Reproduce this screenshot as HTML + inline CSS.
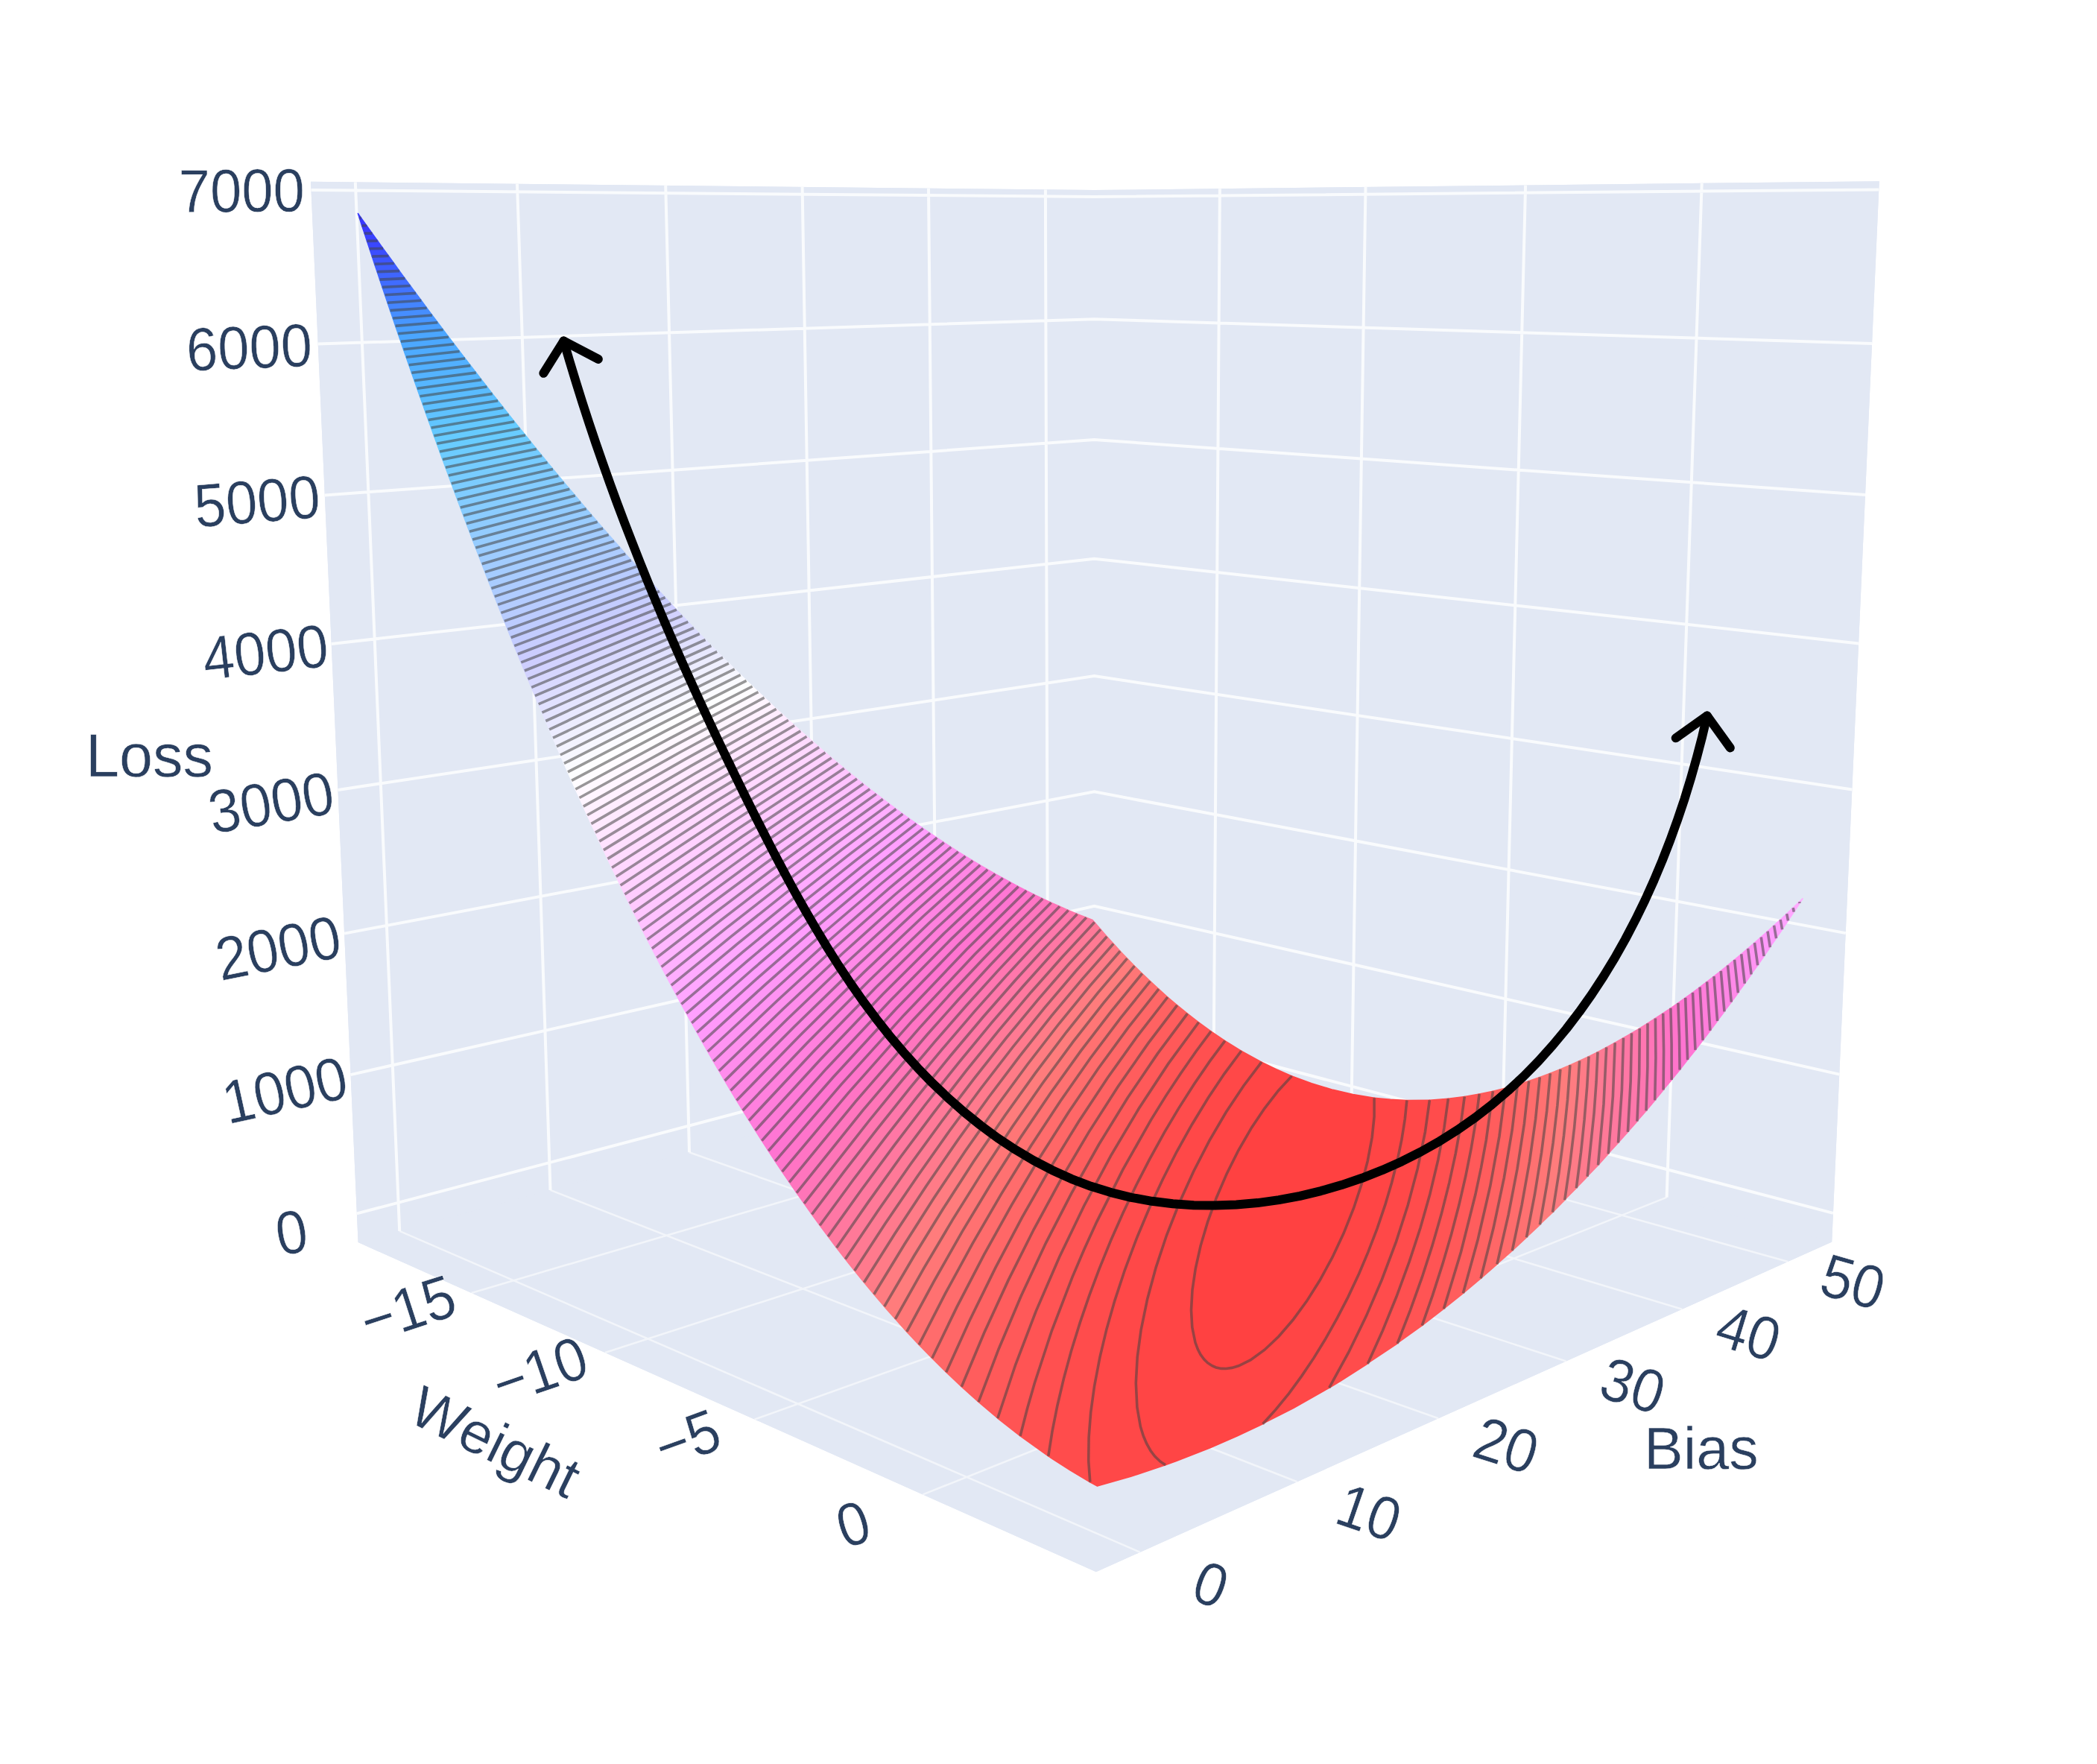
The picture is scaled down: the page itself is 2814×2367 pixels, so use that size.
<!DOCTYPE html><html><head><meta charset="utf-8"><style>html,body{margin:0;padding:0;background:#fff}svg{display:block}</style></head><body><svg width="2814" height="2367" viewBox="0 0 2814 2367">
<rect width="2814" height="2367" fill="#fff"/>
<path d="M417 243.7 L1468.4 255.1 L2521.8 243.2 L2458.2 1666.6 L1470.9 2109.2 L480.6 1667.1Z" fill="#e2e8f4"/>
<path d="M480.6 1667.1 L1468.5 1398.3 L1468.4 255.1 L417 243.7Z" fill="#e2e8f4"/>
<path d="M1468.5 1398.3 L2458.2 1666.6 L2521.8 243.2 L1468.4 255.1Z" fill="#e2e8f4"/>
<path d="M480.6 1667.1 L1470.9 2109.2 L2458.2 1666.6 L1468.5 1398.3Z" fill="#e2e8f4"/>
<path d="M478.9 1628.4 L1468.5 1366.8 L2460 1627.9 M470.5 1442.1 L1468.5 1215.7 L2468.3 1441.6 M462.1 1252.6 L1468.5 1062.4 L2476.8 1252.1 M453.5 1059.9 L1468.5 907.1 L2485.4 1059.4 M444.7 863.9 L1468.5 749.7 L2494.1 863.4 M435.8 664.4 L1468.5 590 L2503 663.9 M426.7 461.5 L1468.5 428.2 L2512.1 461 M417.5 255 L1468.4 264 L2521.3 254.4 M476.8 244.4 L536.2 1651.9 M694 246.7 L738.5 1596.9 M893.2 248.9 L925 1546.2 M1076.6 250.9 L1097.4 1499.3 M1246 252.7 L1257.4 1455.7 M1402.9 254.4 L1406.2 1415.3 M1636.9 253.2 L1628.5 1441.7 M1832.5 251 L1813.4 1491.8 M2047.1 248.6 L2015.3 1546.5 M2283.7 245.9 L2236.6 1606.6" stroke="#fff" stroke-width="4" stroke-opacity="0.8" fill="none"/>
<path d="M536.2 1651.9 L1529.7 2082.8 M738.5 1596.9 L1740.5 1988.3 M925 1546.2 L1930.1 1903.3 M1097.4 1499.3 L2101.5 1826.5 M1257.4 1455.7 L2257.3 1756.7 M1406.2 1415.3 L2399.4 1693 M1628.5 1441.7 L632.6 1734.9 M1813.4 1491.8 L811.9 1815 M2015.3 1546.5 L1012.5 1904.6 M2236.6 1606.6 L1238.4 2005.4" stroke="#fff" stroke-width="2.6" stroke-opacity="0.55" fill="none"/>
<g stroke-width="1.6" stroke-linejoin="round">
<path d="M480.4 286.5 L482.4 292.6 L484.7 292.6 L480.4 286.5Z" fill="#3838ff" stroke="#3838ff"/>
<path d="M482.4 292.6 L485.7 302.9 L492.1 302.9 L484.7 292.6 L482.4 292.6Z" fill="#3838ff" stroke="#3838ff"/>
<path d="M487.5 302.9 L485.7 302.9 L489.1 313.1 L499.4 313.1 L492.1 302.9 L487.5 302.9Z" fill="#3939ff" stroke="#3939ff"/>
<path d="M490.9 313.1 L489.1 313.1 L492.5 323.4 L506.7 323.2 L499.4 313.1 L490.9 313.1Z" fill="#3940ff" stroke="#3940ff"/>
<path d="M494.2 323.4 L492.5 323.4 L495.9 333.7 L514 333.4 L506.7 323.2 L494.2 323.4Z" fill="#3a47ff" stroke="#3a47ff"/>
<path d="M497.6 333.7 L495.9 333.7 L499.3 344.1 L521.4 343.5 L514 333.4 L497.6 333.7Z" fill="#3b4eff" stroke="#3b4eff"/>
<path d="M499.3 344.1 L502.7 354.4 L528.7 353.5 L521.4 343.5 L499.3 344.1Z" fill="#3c55ff" stroke="#3c55ff"/>
<path d="M504.5 354.3 L502.7 354.4 L506.2 364.7 L536 363.6 L528.7 353.5 L504.5 354.3Z" fill="#3e5dff" stroke="#3e5dff"/>
<path d="M506.2 364.7 L509.6 375.1 L543.3 373.6 L536 363.6 L506.2 364.7Z" fill="#3f65ff" stroke="#3f65ff"/>
<path d="M511.4 375 L509.6 375.1 L513.1 385.4 L550.6 383.5 L543.3 373.6 L511.4 375Z" fill="#406cff" stroke="#406cff"/>
<path d="M514.9 385.3 L513.1 385.4 L516.6 395.8 L558 393.4 L550.6 383.5 L514.9 385.3Z" fill="#4174ff" stroke="#4174ff"/>
<path d="M516.6 395.8 L520.1 406.2 L565.3 403.3 L558 393.4 L516.6 395.8Z" fill="#437dff" stroke="#437dff"/>
<path d="M521.8 406.1 L520.1 406.2 L523.6 416.6 L572.6 413.2 L565.3 403.3 L521.8 406.1Z" fill="#4485ff" stroke="#4485ff"/>
<path d="M523.6 416.6 L527.2 427 L579.9 423 L572.6 413.2 L523.6 416.6Z" fill="#468eff" stroke="#468eff"/>
<path d="M528.9 426.9 L527.2 427 L530.7 437.4 L587.3 432.7 L579.9 423 L528.9 426.9Z" fill="#4796ff" stroke="#4796ff"/>
<path d="M532.5 437.3 L530.7 437.4 L534.3 447.8 L594.6 442.5 L587.3 432.7 L532.5 437.3Z" fill="#499fff" stroke="#499fff"/>
<path d="M534.3 447.8 L537.9 458.3 L601.9 452.2 L594.6 442.5 L534.3 447.8Z" fill="#4ba6ff" stroke="#4ba6ff"/>
<path d="M539.6 458.1 L537.9 458.3 L541.5 468.8 L609.3 461.8 L601.9 452.2 L539.6 458.1Z" fill="#4ca8ff" stroke="#4ca8ff"/>
<path d="M543.2 468.6 L541.5 468.8 L545.1 479.2 L616.6 471.5 L609.3 461.8 L543.2 468.6Z" fill="#4eabff" stroke="#4eabff"/>
<path d="M545.1 479.2 L548.8 489.7 L624 481.1 L616.6 471.5 L545.1 479.2Z" fill="#50adff" stroke="#50adff"/>
<path d="M550.5 489.5 L548.8 489.7 L552.4 500.2 L631.3 490.6 L624 481.1 L550.5 489.5Z" fill="#52b0ff" stroke="#52b0ff"/>
<path d="M554.2 500 L552.4 500.2 L556.1 510.7 L638.7 500.1 L631.3 490.6 L554.2 500Z" fill="#54b3ff" stroke="#54b3ff"/>
<path d="M556.1 510.7 L559.8 521.3 L646 509.6 L638.7 500.1 L556.1 510.7Z" fill="#56b6ff" stroke="#56b6ff"/>
<path d="M561.5 521 L559.8 521.3 L563.5 531.8 L653.4 519 L646 509.6 L561.5 521Z" fill="#58b9ff" stroke="#58b9ff"/>
<path d="M565.3 531.5 L563.5 531.8 L567.3 542.3 L660.7 528.4 L653.4 519 L565.3 531.5Z" fill="#5abcff" stroke="#5abcff"/>
<path d="M567.3 542.3 L571 552.9 L668.1 537.8 L660.7 528.4 L567.3 542.3Z" fill="#5dbfff" stroke="#5dbfff"/>
<path d="M572.7 552.6 L571 552.9 L574.8 563.5 L675.4 547.1 L668.1 537.8 L572.7 552.6Z" fill="#5fc2ff" stroke="#5fc2ff"/>
<path d="M576.5 563.2 L574.8 563.5 L578.6 574.1 L682.8 556.4 L675.4 547.1 L576.5 563.2Z" fill="#61c5ff" stroke="#61c5ff"/>
<path d="M580.3 573.8 L578.6 574.1 L582.4 584.7 L690.2 565.7 L682.8 556.4 L580.3 573.8Z" fill="#64c8ff" stroke="#64c8ff"/>
<path d="M582.4 584.7 L586.3 595.3 L697.6 574.9 L690.2 565.7 L582.4 584.7Z" fill="#66cbff" stroke="#66cbff"/>
<path d="M588 595 L586.3 595.3 L590.1 606 L705 584.1 L697.6 574.9 L588 595Z" fill="#69ccff" stroke="#69ccff"/>
<path d="M591.8 605.7 L590.1 606 L594 616.6 L712.4 593.3 L705 584.1 L591.8 605.7Z" fill="#6dccff" stroke="#6dccff"/>
<path d="M595.7 616.3 L594 616.6 L597.9 627.3 L719.8 602.4 L712.4 593.3 L595.7 616.3Z" fill="#71ccff" stroke="#71ccff"/>
<path d="M597.9 627.3 L601.9 638 L727.2 611.4 L719.8 602.4 L597.9 627.3Z" fill="#75ccff" stroke="#75ccff"/>
<path d="M601.9 638 L605.8 648.7 L734.6 620.5 L727.2 611.4 L601.9 638Z" fill="#78ccff" stroke="#78ccff"/>
<path d="M607.5 648.3 L605.8 648.7 L609.8 659.4 L742 629.5 L734.6 620.5 L607.5 648.3Z" fill="#7cccff" stroke="#7cccff"/>
<path d="M611.5 659 L609.8 659.4 L613.8 670.2 L749.4 638.5 L742 629.5 L611.5 659Z" fill="#80ccff" stroke="#80ccff"/>
<path d="M615.4 669.8 L613.8 670.2 L617.8 680.9 L756.9 647.4 L749.4 638.5 L615.4 669.8Z" fill="#84ccff" stroke="#84ccff"/>
<path d="M617.8 680.9 L621.9 691.7 L764.3 656.3 L756.9 647.4 L617.8 680.9Z" fill="#87ccff" stroke="#87ccff"/>
<path d="M621.9 691.7 L625.9 702.5 L771.8 665.1 L764.3 656.3 L621.9 691.7Z" fill="#8bccff" stroke="#8bccff"/>
<path d="M627.6 702.1 L625.9 702.5 L630 713.3 L779.3 674 L771.8 665.1 L627.6 702.1Z" fill="#8fccff" stroke="#8fccff"/>
<path d="M631.7 712.9 L630 713.3 L634.1 724.1 L786.7 682.7 L779.3 674 L631.7 712.9Z" fill="#93ccff" stroke="#93ccff"/>
<path d="M635.8 723.7 L634.1 724.1 L638.3 735 L794.2 691.5 L786.7 682.7 L635.8 723.7Z" fill="#96ccff" stroke="#96ccff"/>
<path d="M639.9 734.5 L638.3 735 L642.5 745.8 L801.7 700.2 L794.2 691.5 L639.9 734.5Z" fill="#9accff" stroke="#9accff"/>
<path d="M642.5 745.8 L646.7 756.7 L809.2 708.9 L801.7 700.2 L642.5 745.8Z" fill="#9eccff" stroke="#9eccff"/>
<path d="M646.7 756.7 L650.9 767.6 L816.7 717.5 L809.2 708.9 L646.7 756.7Z" fill="#a2ccff" stroke="#a2ccff"/>
<path d="M650.9 767.6 L655.1 778.5 L824.2 726.1 L816.7 717.5 L650.9 767.6Z" fill="#a5ccff" stroke="#a5ccff"/>
<path d="M656.8 778 L655.1 778.5 L659.4 789.5 L831.8 734.6 L824.2 726.1 L656.8 778Z" fill="#a9ccff" stroke="#a9ccff"/>
<path d="M661 789 L659.4 789.5 L663.7 800.4 L839.3 743.2 L831.8 734.6 L661 789Z" fill="#adccff" stroke="#adccff"/>
<path d="M665.3 799.9 L663.7 800.4 L668.1 811.4 L846.9 751.7 L839.3 743.2 L665.3 799.9Z" fill="#b0ccff" stroke="#b0ccff"/>
<path d="M669.7 810.9 L668.1 811.4 L672.4 822.4 L854.5 760.1 L846.9 751.7 L669.7 810.9Z" fill="#b4ccff" stroke="#b4ccff"/>
<path d="M674 821.9 L672.4 822.4 L676.8 833.4 L862.1 768.5 L854.5 760.1 L674 821.9Z" fill="#b8ccff" stroke="#b8ccff"/>
<path d="M678.4 832.9 L676.8 833.4 L681.3 844.5 L869.7 776.9 L862.1 768.5 L678.4 832.9Z" fill="#bcccff" stroke="#bcccff"/>
<path d="M682.9 843.9 L681.3 844.5 L685.7 855.6 L877.3 785.2 L869.7 776.9 L682.9 843.9Z" fill="#bfccff" stroke="#bfccff"/>
<path d="M687.3 855 L685.7 855.6 L690.2 866.6 L884.9 793.5 L877.3 785.2 L687.3 855Z" fill="#c3ccff" stroke="#c3ccff"/>
<path d="M691.8 866 L690.2 866.6 L694.8 877.7 L892.6 801.8 L884.9 793.5 L691.8 866Z" fill="#c7cdff" stroke="#c7cdff"/>
<path d="M696.3 877.1 L694.8 877.7 L699.3 888.9 L900.2 810 L892.6 801.8 L696.3 877.1Z" fill="#cbcdff" stroke="#cbcdff"/>
<path d="M700.9 888.2 L699.3 888.9 L703.9 900 L907.9 818.2 L900.2 810 L700.9 888.2Z" fill="#ceceff" stroke="#ceceff"/>
<path d="M705.5 899.4 L703.9 900 L708.5 911.2 L915.6 826.3 L907.9 818.2 L705.5 899.4Z" fill="#d2d2ff" stroke="#d2d2ff"/>
<path d="M710.1 910.6 L708.5 911.2 L713.2 922.4 L923.3 834.4 L915.6 826.3 L710.1 910.6Z" fill="#d6d6ff" stroke="#d6d6ff"/>
<path d="M714.8 921.8 L713.2 922.4 L717.9 933.7 L931 842.5 L923.3 834.4 L714.8 921.8Z" fill="#d9d9ff" stroke="#d9d9ff"/>
<path d="M719.5 933 L717.9 933.7 L722.7 944.9 L938.8 850.5 L931 842.5 L719.5 933Z" fill="#ddddff" stroke="#ddddff"/>
<path d="M724.2 944.2 L722.7 944.9 L727.4 956.2 L946.6 858.5 L938.8 850.5 L724.2 944.2Z" fill="#e1e1ff" stroke="#e1e1ff"/>
<path d="M727.4 956.2 L732.3 967.5 L846.6 914.9 L954.4 866.5 L946.6 858.5 L727.4 956.2Z" fill="#e4e4ff" stroke="#e4e4ff"/>
<path d="M732.3 967.5 L737.1 978.8 L855.2 923.4 L962.2 874.4 L954.4 866.5 L846.6 914.9 L732.3 967.5Z" fill="#e8e8ff" stroke="#e8e8ff"/>
<path d="M737.1 978.8 L742 990.2 L860 933.7 L970 882.2 L962.2 874.4 L855.2 923.4 L737.1 978.8Z" fill="#ececff" stroke="#ececff"/>
<path d="M743.6 989.4 L742 990.2 L746.9 1001.6 L866.8 943 L977.9 890.1 L970 882.2 L860 933.7 L743.6 989.4Z" fill="#f0f0ff" stroke="#f0f0ff"/>
<path d="M748.5 1000.8 L746.9 1001.6 L751.9 1013 L871.7 953.3 L985.8 897.9 L977.9 890.1 L866.8 943 L748.5 1000.8Z" fill="#f3f3ff" stroke="#f3f3ff"/>
<path d="M753.5 1012.2 L751.9 1013 L757 1024.4 L878.6 962.6 L993.7 905.6 L985.8 897.9 L871.7 953.3 L753.5 1012.2Z" fill="#f7f7ff" stroke="#f7f7ff"/>
<path d="M758.5 1023.7 L757 1024.4 L762 1035.9 L883.7 972.8 L1001.6 913.3 L993.7 905.6 L880.5 961.6 L758.5 1023.7Z" fill="#fbfbff" stroke="#fbfbff"/>
<path d="M762 1035.9 L767.1 1047.4 L892.6 981.1 L1009.6 921 L1001.6 913.3 L883.7 972.8 L762 1035.9Z" fill="#fefeff" stroke="#fefeff"/>
<path d="M768.7 1046.6 L767.1 1047.4 L772.3 1059 L899.6 990.4 L1017.5 928.6 L1009.6 921 L892.6 981.1 L768.7 1046.6Z" fill="#fffcff" stroke="#fffcff"/>
<path d="M773.8 1058.1 L772.3 1059 L777.5 1070.5 L903 1001.6 L1025.6 936.2 L1017.5 928.6 L899.6 990.4 L773.8 1058.1Z" fill="#fff8ff" stroke="#fff8ff"/>
<path d="M779 1069.7 L777.5 1070.5 L782.8 1082.1 L912 1009.8 L1033.6 943.8 L1025.6 936.2 L906.7 999.6 L779 1069.7Z" fill="#fff5ff" stroke="#fff5ff"/>
<path d="M782.8 1082.1 L788.1 1093.8 L919.3 1018.9 L1041.7 951.3 L1033.6 943.8 L912 1009.8 L782.8 1082.1Z" fill="#fff1ff" stroke="#fff1ff"/>
<path d="M789.6 1092.9 L788.1 1093.8 L793.4 1105.4 L926.5 1028.1 L1049.8 958.7 L1041.7 951.3 L919.3 1018.9 L789.6 1092.9Z" fill="#ffedff" stroke="#ffedff"/>
<path d="M795 1104.5 L793.4 1105.4 L798.9 1117.1 L933.9 1037.2 L1057.9 966.2 L1049.8 958.7 L926.5 1028.1 L795 1104.5Z" fill="#ffeaff" stroke="#ffeaff"/>
<path d="M798.9 1117.1 L804.3 1128.9 L939.5 1047.3 L1066.1 973.5 L1057.9 966.2 L933.9 1037.2 L798.9 1117.1Z" fill="#ffe6ff" stroke="#ffe6ff"/>
<path d="M805.8 1128 L804.3 1128.9 L809.9 1140.6 L946.9 1056.4 L1074.3 980.9 L1066.1 973.5 L939.5 1047.3 L805.8 1128Z" fill="#ffe3ff" stroke="#ffe3ff"/>
<path d="M811.3 1139.7 L809.9 1140.6 L815.4 1152.5 L954.5 1065.4 L1082.5 988.2 L1074.3 980.9 L946.9 1056.4 L811.3 1139.7Z" fill="#ffdfff" stroke="#ffdfff"/>
<path d="M815.4 1152.5 L821.1 1164.3 L962 1074.4 L1090.8 995.4 L1082.5 988.2 L954.5 1065.4 L815.4 1152.5Z" fill="#ffdbff" stroke="#ffdbff"/>
<path d="M822.6 1163.3 L821.1 1164.3 L826.8 1176.2 L967.9 1084.5 L1099.1 1002.6 L1090.8 995.4 L962 1074.4 L822.6 1163.3Z" fill="#ffd8ff" stroke="#ffd8ff"/>
<path d="M826.8 1176.2 L832.6 1188.1 L975.7 1093.5 L1107.5 1009.8 L1099.1 1002.6 L967.9 1084.5 L826.8 1176.2Z" fill="#ffd4ff" stroke="#ffd4ff"/>
<path d="M834 1187.1 L832.6 1188.1 L838.4 1200.1 L980 1104.7 L1115.8 1016.9 L1107.5 1009.8 L975.7 1093.5 L834 1187.1Z" fill="#ffd1ff" stroke="#ffd1ff"/>
<path d="M839.9 1199.1 L838.4 1200.1 L844.3 1212.1 L991.3 1111.3 L1124.3 1024 L1115.8 1016.9 L983.5 1102.4 L839.9 1199.1Z" fill="#ffcdff" stroke="#ffcdff"/>
<path d="M845.7 1211.1 L844.3 1212.1 L850.3 1224.1 L997.6 1121.3 L1132.8 1031 L1124.3 1024 L991.3 1111.3 L845.7 1211.1Z" fill="#ffcaff" stroke="#ffcaff"/>
<path d="M850.3 1224.1 L856.3 1236.2 L1005.6 1130.1 L1141.3 1038 L1132.8 1031 L997.6 1121.3 L850.3 1224.1Z" fill="#ffc6ff" stroke="#ffc6ff"/>
<path d="M857.7 1235.2 L856.3 1236.2 L862.4 1248.4 L1012 1140.1 L1083.1 1090.4 L1149.9 1044.9 L1141.3 1038 L1005.6 1130.1 L857.7 1235.2Z" fill="#ffc2ff" stroke="#ffc2ff"/>
<path d="M862.4 1248.4 L868.6 1260.6 L1020.2 1148.9 L1089.2 1099.8 L1158.5 1051.8 L1149.9 1044.9 L1083.1 1090.4 L1012 1140.1 L862.4 1248.4Z" fill="#ffbfff" stroke="#ffbfff"/>
<path d="M870 1259.5 L868.6 1260.6 L874.9 1272.8 L951.7 1214.5 L1026.8 1158.8 L1097 1108.1 L1167.2 1058.7 L1158.5 1051.8 L1089.2 1099.8 L1020.2 1148.9 L870 1259.5Z" fill="#ffbbff" stroke="#ffbbff"/>
<path d="M876.3 1271.7 L874.9 1272.8 L881.2 1285.1 L958.9 1225.1 L1033.5 1168.8 L1106.3 1115.2 L1175.9 1065.4 L1167.2 1058.7 L1097 1108.1 L1026.8 1158.8 L951.7 1214.5 L876.3 1271.7Z" fill="#ffb8ff" stroke="#ffb8ff"/>
<path d="M881.2 1285.1 L887.6 1297.4 L966.2 1235.6 L1042 1177.4 L1115.7 1122.3 L1184.7 1072.2 L1175.9 1065.4 L1106.3 1115.2 L1033.5 1168.8 L958.9 1225.1 L881.2 1285.1Z" fill="#ffb4ff" stroke="#ffb4ff"/>
<path d="M889.1 1296.3 L887.6 1297.4 L894.2 1309.8 L973.6 1246.2 L1048.9 1187.3 L1122.2 1131.5 L1193.5 1078.9 L1184.7 1072.2 L1115.7 1122.3 L1042 1177.4 L966.2 1235.6 L889.1 1296.3Z" fill="#ffb1ff" stroke="#ffb1ff"/>
<path d="M895.6 1308.7 L894.2 1309.8 L900.8 1322.2 L981.1 1256.7 L1059.1 1194.6 L1131.7 1138.5 L1202.4 1085.5 L1193.5 1078.9 L1189.4 1081.9 L1119.2 1133.8 L1048.9 1187.3 L973.6 1246.2 L895.6 1308.7Z M2415 1211.9 L2419 1205.9 L2414.6 1210.1 L2415 1211.9Z" fill="#ffaeff" stroke="#ffaeff"/>
<path d="M900.8 1322.2 L907.5 1334.7 L988.7 1267.2 L1066.2 1204.4 L1141.3 1145.4 L1211.4 1092.1 L1202.4 1085.5 L1190.1 1094.6 L1122.8 1145.3 L1051 1201 L977.5 1259.6 L900.8 1322.2Z M2407.3 1223.6 L2415 1212 L2414.6 1210.1 L2406.2 1218.1 L2407.3 1223.6Z" fill="#ffaaff" stroke="#ffaaff"/>
<path d="M908.9 1333.6 L907.5 1334.7 L914.3 1347.3 L996.5 1277.7 L1073.5 1214.2 L1148.1 1154.6 L1220.4 1098.6 L1211.4 1092.1 L1196.5 1103.3 L1129.5 1154.6 L1058.2 1210.9 L985.2 1270.1 L908.9 1333.6Z M2399.5 1235.3 L2407.3 1223.6 L2406.2 1218.1 L2397.7 1226.1 L2399.5 1235.3Z" fill="#ffa7ff" stroke="#ffa7ff"/>
<path d="M915.6 1346.1 L914.3 1347.3 L921.2 1359.9 L1002.7 1289.6 L1079.2 1225.3 L1155 1163.7 L1229.5 1105.1 L1220.4 1098.6 L1197.5 1116.2 L1130.4 1168.5 L1062.2 1223.4 L991.2 1282.1 L915.6 1346.1Z M2391.6 1247 L2399.5 1235.4 L2397.7 1226.1 L2389.2 1234 L2391.6 1247Z" fill="#ffa3ff" stroke="#ffa3ff"/>
<path d="M922.5 1358.7 L921.2 1359.9 L928.2 1372.6 L1010.7 1300 L1089.9 1232.4 L1166.3 1169.3 L1238.7 1111.6 L1229.5 1105.1 L1201.3 1127 L1133 1181.4 L1064.8 1237.3 L995.7 1295.6 L922.5 1358.7Z M2383.5 1258.8 L2391.6 1247.2 L2389.2 1234 L2380.6 1241.8 L2383.5 1258.8Z" fill="#ffa0ff" stroke="#ffa0ff"/>
<path d="M929.5 1371.4 L928.2 1372.6 L935.3 1385.3 L1017.2 1311.9 L1095.9 1243.5 L1173.3 1178.4 L1248 1117.9 L1238.7 1111.6 L1206.7 1136.8 L1140.1 1190.7 L1072.4 1247.2 L1002 1307.6 L929.5 1371.4Z M2375.3 1270.6 L2383.6 1259.1 L2380.6 1241.8 L2372 1249.6 L2375.3 1270.6Z" fill="#ff9dfd" stroke="#ff9dfd"/>
<path d="M936.6 1384.1 L935.3 1385.3 L942.5 1398.2 L1025.6 1322.3 L1106.8 1250.5 L1183.4 1185 L1257.3 1124.2 L1248 1117.9 L1210.8 1147.7 L1145.9 1201.2 L1078.6 1258.4 L1008.5 1319.6 L936.6 1384.1Z M2367 1282.4 L2367.1 1283.1 L2375.4 1271.1 L2372 1249.6 L2363.3 1257.4 L2367 1282.4Z" fill="#ff99fa" stroke="#ff99fa"/>
<path d="M943.9 1396.9 L942.5 1398.2 L949.8 1411 L1032.4 1334.2 L1113.1 1261.5 L1192.1 1192.8 L1266.7 1130.5 L1257.3 1124.2 L1213.7 1159.8 L1148.9 1214.2 L1081.7 1272.4 L1013.5 1333.2 L943.9 1396.9Z M2358.7 1295.2 L2367.1 1283.1 L2363.3 1257.4 L2354.5 1265.1 L2358.7 1295.2Z" fill="#ff96f6" stroke="#ff96f6"/>
<path d="M951.2 1409.8 L949.8 1411 L957.3 1424 L1042.7 1343 L1122.6 1269.7 L1200.9 1200.5 L1276.2 1136.7 L1266.7 1130.5 L1219.5 1169.6 L1155 1224.7 L1088.1 1283.7 L1020.4 1345.2 L951.2 1409.8Z M2350 1307 L2358.7 1295.2 L2354.5 1265.1 L2345.6 1272.7 L2350 1307Z" fill="#ff93f3" stroke="#ff93f3"/>
<path d="M958.7 1422.7 L957.3 1424 L964.9 1437 L1049.9 1354.8 L1130.8 1279.3 L1209.8 1208.2 L1285.8 1142.9 L1276.2 1136.7 L1222.7 1181.8 L1159.8 1236.5 L1094.8 1295 L1027.5 1357.2 L958.7 1422.7Z M2341.2 1318.9 L2341.3 1319.8 L2350.1 1307.5 L2345.6 1272.7 L2336.7 1280.3 L2341.2 1318.9Z" fill="#ff90ef" stroke="#ff90ef"/>
<path d="M966.2 1435.7 L964.9 1437 L972.6 1450.1 L1057.3 1366.7 L1139.1 1288.8 L1218.9 1215.9 L1295.5 1148.9 L1285.8 1142.9 L1228.8 1191.6 L1166.2 1247.1 L1101.6 1306.2 L1033 1370.9 L966.2 1435.7Z M2332.4 1331.8 L2341.3 1319.8 L2336.7 1280.3 L2327.6 1287.9 L2332.4 1331.8Z" fill="#ff8cec" stroke="#ff8cec"/>
<path d="M974 1448.8 L972.6 1450.1 L980.5 1463.3 L1066.5 1376.9 L1149 1296.9 L1228.1 1223.4 L1305.3 1154.9 L1295.5 1148.9 L1232.4 1203.9 L1168.5 1261.6 L1105.5 1320.4 L1040.5 1382.9 L974 1448.8Z M2323.2 1343.8 L2323.3 1344.7 L2332.4 1332.2 L2327.6 1287.9 L2318.5 1295.3 L2323.2 1343.8Z" fill="#ff89e8" stroke="#ff89e8"/>
<path d="M981.8 1462 L980.5 1463.3 L988.5 1476.6 L1074.2 1388.7 L1159.1 1304.9 L1238.7 1229.7 L1315.2 1160.9 L1305.3 1154.9 L1238.8 1213.7 L1178.1 1269.5 L1114.2 1330.2 L1048.2 1395 L981.8 1462Z M2314 1356.8 L2323.3 1344.7 L2318.5 1295.3 L2309.3 1302.8 L2314 1356.8Z" fill="#ff86e5" stroke="#ff86e5"/>
<path d="M988.5 1476.6 L996.7 1489.9 L1083.8 1398.8 L1166.4 1315.7 L1248.2 1237.2 L1325.2 1166.8 L1315.2 1160.9 L1242.7 1226 L1180.8 1284.1 L1118.5 1344.5 L1054.4 1408.7 L988.5 1476.6Z M2304.6 1369.8 L2314 1357.3 L2309.3 1302.8 L2300 1310.1 L2304.6 1369.8Z" fill="#ff83e2" stroke="#ff83e2"/>
<path d="M998 1488.5 L996.7 1489.9 L1005.1 1503.4 L1090.4 1412.2 L1175.4 1325 L1256.4 1245.8 L1335.4 1172.6 L1325.2 1166.8 L1248.2 1237.2 L1188 1294.6 L1124.6 1357.3 L1060.9 1422.4 L998 1488.5Z M2294.9 1382.9 L2304.6 1370 L2300 1310.1 L2290.6 1317.4 L2294.9 1382.9Z" fill="#ff80de" stroke="#ff80de"/>
<path d="M1006.4 1502 L1005.1 1503.4 L1013.6 1516.9 L1100.4 1422.2 L1184.5 1334.3 L1266.2 1253.1 L1345.6 1178.3 L1335.4 1172.6 L1255.1 1247.1 L1193.9 1306.6 L1134 1367 L1070.9 1432.7 L1006.4 1502Z M2285 1394.9 L2285.1 1395.8 L2294.9 1382.9 L2290.6 1317.4 L2281.1 1324.6 L2285 1394.9Z" fill="#ff7ddb" stroke="#ff7ddb"/>
<path d="M1013.6 1516.9 L1022.3 1530.6 L1107.5 1435.6 L1193.9 1343.6 L1277.4 1259.1 L1356 1184 L1345.6 1178.3 L1261 1258.2 L1200.1 1318.5 L1140.5 1379.8 L1077.9 1446.4 L1013.6 1516.9Z M2274.9 1408 L2275 1408.9 L2285.1 1395.8 L2281.1 1324.6 L2271.5 1331.8 L2274.9 1408Z" fill="#ff7ad8" stroke="#ff7ad8"/>
<path d="M1023.6 1529.1 L1022.3 1530.6 L1031.2 1544.3 L1118 1445.5 L1203.4 1352.7 L1286.1 1267.6 L1366.6 1189.6 L1356 1184 L1312.6 1224.9 L1268.3 1268 L1209.3 1327.6 L1147.3 1392.6 L1085.2 1460.1 L1023.6 1529.1Z M2264.6 1421.1 L2264.6 1422.1 L2275 1408.9 L2271.5 1331.8 L2261.7 1338.9 L2264.6 1421.1Z" fill="#ff77d4" stroke="#ff77d4"/>
<path d="M1032.5 1542.9 L1031.2 1544.3 L1040.3 1558.2 L1128.7 1455.4 L1213.2 1361.9 L1296.4 1274.7 L1377.3 1195.1 L1366.6 1189.6 L1321.1 1233.1 L1274.6 1279.2 L1215.9 1339.6 L1157.4 1402.2 L1094.3 1472 L1032.5 1542.9Z M2254.1 1435.4 L2264.6 1422.1 L2261.7 1338.9 L2251.9 1345.9 L2253.5 1390.6 L2254.1 1435.4Z" fill="#ff74d1" stroke="#ff74d1"/>
<path d="M1041.5 1556.7 L1040.3 1558.2 L1049.6 1572.2 L1138.1 1466.9 L1224.5 1369.4 L1308.1 1280.5 L1388.2 1200.6 L1377.3 1195.1 L1328.6 1242.4 L1281.1 1290.3 L1221.5 1353 L1163.2 1416.6 L1102.2 1485.7 L1041.5 1556.7Z M2243.2 1448.7 L2254.1 1435.5 L2253.5 1390.6 L2251.9 1345.9 L2241.9 1352.8 L2243.1 1400.2 L2243.2 1448.7Z" fill="#ff74cb" stroke="#ff74cb"/>
<path d="M1050.9 1570.7 L1049.6 1572.2 L1059.2 1586.3 L1147.9 1478.4 L1233.4 1379.9 L1277 1331.8 L1318.7 1287.4 L1358.6 1246.3 L1399.2 1205.9 L1388.2 1200.6 L1338.7 1249.2 L1289.2 1300.1 L1231.4 1361.9 L1173.8 1426.1 L1111.9 1497.5 L1050.9 1570.7Z M2232.1 1461.9 L2243.2 1449 L2243.1 1400.2 L2241.9 1352.8 L2231.7 1359.7 L2232.6 1409.8 L2232.1 1461.9Z" fill="#ff74c4" stroke="#ff74c4"/>
<path d="M1060.4 1584.8 L1059.2 1586.3 L1069 1600.6 L1157.9 1489.8 L1243.8 1388.8 L1285.7 1341.8 L1329.5 1294.3 L1371.3 1250.6 L1410.5 1211.2 L1399.2 1205.9 L1347.8 1257.2 L1296.2 1311.2 L1240.1 1372.3 L1180.2 1440.5 L1122 1509.3 L1060.4 1584.8Z M2220.7 1476.3 L2232.1 1462.6 L2232.6 1411.5 L2231.7 1359.7 L2221.4 1366.5 L2221.9 1419.6 L2220.7 1476.3Z" fill="#ff75be" stroke="#ff75be"/>
<path d="M1069 1600.6 L1079.1 1614.9 L1166.9 1503 L1211.1 1449 L1254.6 1397.6 L1297.3 1348.8 L1340.5 1301.1 L1382 1257.1 L1421.9 1216.3 L1410.5 1211.2 L1358.4 1263.9 L1303.5 1322.3 L1246.5 1385.7 L1188.5 1453.2 L1127.8 1526.7 L1069 1600.6Z M2209 1489.6 L2209 1490.4 L2220.7 1476.4 L2221.9 1419.6 L2221.4 1366.5 L2211 1373.2 L2210.9 1431 L2209 1489.6Z" fill="#ff75b8" stroke="#ff75b8"/>
<path d="M1079.1 1614.9 L1089.5 1629.5 L1133.1 1571.6 L1177.6 1514.3 L1221.3 1459.7 L1264.3 1407.9 L1307.8 1357.2 L1350.6 1309.1 L1391.7 1264.7 L1433.6 1221.4 L1421.9 1216.3 L1367.9 1271.8 L1311.1 1333.4 L1254.6 1397.6 L1195.7 1467.6 L1137 1540.3 L1079.1 1614.9Z M2196.9 1504.1 L2209 1490.4 L2210.9 1431 L2211 1373.2 L2200.3 1379.9 L2199.7 1440.9 L2196.9 1504.1Z" fill="#ff76b1" stroke="#ff76b1"/>
<path d="M1089.5 1629.5 L1100.2 1644.2 L1144.9 1583.3 L1187.3 1527.3 L1230.5 1472.1 L1275.6 1416.5 L1319.8 1364 L1362.1 1315.7 L1404 1269.9 L1445.5 1226.4 L1433.6 1221.4 L1376.6 1280.8 L1319 1344.4 L1261.6 1411 L1204.7 1480.3 L1148.2 1552 L1089.5 1629.5Z M2184.4 1518.6 L2196.9 1504.6 L2199.7 1440.9 L2200.3 1379.9 L2189.5 1386.4 L2188.2 1450.8 L2184.4 1518.6Z" fill="#ff77ab" stroke="#ff77ab"/>
<path d="M1101.3 1642.6 L1100.2 1644.2 L1111.2 1659.1 L1155.6 1597 L1200.2 1536.6 L1242.7 1481 L1287.2 1425.1 L1330.9 1372.2 L1372.8 1323.5 L1414.2 1277.3 L1457.7 1231.2 L1445.5 1226.4 L1389 1286 L1329.6 1352.6 L1273 1419.7 L1216.8 1489.4 L1161.2 1561.5 L1101.3 1642.6Z M2171.6 1533.1 L2184.4 1518.9 L2188.2 1450.8 L2189.5 1386.4 L2178.5 1392.8 L2176.4 1460.9 L2171.6 1533.1Z" fill="#ff77a5" stroke="#ff77a5"/>
<path d="M1112.4 1657.5 L1111.2 1659.1 L1122.6 1674.2 L1161 1618.8 L1202.5 1560.9 L1242.1 1507.3 L1282.6 1454.5 L1328.9 1396.5 L1376.7 1339.4 L1422.6 1287.2 L1468.7 1237.6 L1466 1234.4 L1457.7 1231.2 L1390.2 1303.8 L1321.1 1383.9 L1270.4 1445.9 L1216.9 1514.5 L1163 1586.9 L1112.4 1657.5Z M2158.3 1547.7 L2171.5 1533.5 L2176.4 1462.6 L2178.5 1392.8 L2167.2 1399.2 L2164.4 1471.1 L2158.3 1547.7Z" fill="#ff789f" stroke="#ff789f"/>
<path d="M1123.8 1672.5 L1122.6 1674.2 L1134.4 1689.5 L1178.6 1624 L1221.8 1562.2 L1264.4 1503.7 L1307.7 1446.6 L1350.4 1392.6 L1393.8 1340.2 L1434.6 1293.2 L1476.9 1247.1 L1468.7 1237.6 L1427.1 1282.2 L1384.9 1329.9 L1342.3 1380.2 L1299.2 1433.5 L1255.4 1489.8 L1212.2 1547.6 L1168.3 1608.4 L1123.8 1672.5Z M2144.6 1562.2 L2144.5 1563.4 L2158.2 1548.3 L2164.4 1471.1 L2167.2 1399.2 L2155.7 1405.4 L2152 1481.4 L2144.6 1562.2Z" fill="#ff7998" stroke="#ff7998"/>
<path d="M1135.6 1687.8 L1134.4 1689.5 L1146.7 1705 L1188.1 1641.5 L1232.1 1576.9 L1274.1 1517.5 L1316.8 1459.7 L1359.1 1405 L1402.1 1351.8 L1443.7 1303 L1485.3 1256.7 L1476.9 1247.1 L1434.6 1293.2 L1393.8 1340.2 L1350.4 1392.6 L1307.7 1446.6 L1264.4 1503.7 L1221.8 1562.2 L1178.6 1624 L1135.6 1687.8Z M2130.2 1578.1 L2144.5 1563.4 L2152 1481.4 L2155.7 1405.4 L2144 1411.6 L2142.1 1451.5 L2139.1 1493.6 L2130.2 1578.1Z" fill="#ff7a93" stroke="#ff7a93"/>
<path d="M1146.7 1705 L1159.5 1720.7 L1201.2 1654.7 L1242.9 1591.4 L1285.5 1529.5 L1326.4 1472.7 L1368.2 1417.3 L1409.7 1364.8 L1452.2 1313.9 L1494.1 1266.4 L1485.3 1256.7 L1443.7 1303 L1402.1 1351.8 L1359.1 1405 L1316.8 1459.7 L1274.1 1517.5 L1232.1 1576.9 L1188.1 1641.5 L1146.7 1705Z M2115.3 1594 L2130.1 1578.7 L2139.1 1493.6 L2142.1 1451.5 L2144 1411.6 L2132 1417.6 L2129.7 1458.4 L2126.1 1502.4 L2121.5 1546.4 L2115.3 1594Z" fill="#ff7a8d" stroke="#ff7a8d"/>
<path d="M1160.5 1719 L1159.5 1720.7 L1172.8 1736.8 L1213.5 1670 L1253.1 1607.8 L1295 1545 L1337.8 1484 L1379 1428 L1421.2 1373.5 L1462.2 1323.4 L1503.1 1276.2 L1494.1 1266.4 L1454.4 1311.3 L1411.9 1362 L1370.5 1414.2 L1328.8 1469.4 L1285.5 1529.5 L1244.2 1589.4 L1201.2 1654.7 L1160.5 1719Z M2099.8 1609.8 L2115.3 1594.3 L2121.5 1546.4 L2126.1 1502.4 L2129.7 1458.4 L2132 1417.6 L2119.6 1423.5 L2116.8 1467.1 L2112.6 1513.1 L2106.8 1561.5 L2099.8 1609.8Z" fill="#ff7b87" stroke="#ff7b87"/>
<path d="M1173.8 1735 L1172.8 1736.8 L1186.7 1753.1 L1226.7 1685 L1265.4 1622.2 L1306.5 1558.6 L1348.6 1496.8 L1389.2 1440.1 L1430.9 1385 L1472.7 1332.9 L1512.5 1286.1 L1503.1 1276.2 L1462.2 1323.4 L1421.2 1373.5 L1379 1428 L1337.8 1484 L1297.5 1541.4 L1255.7 1603.9 L1213.5 1670 L1173.8 1735Z M2083.6 1625.7 L2083.5 1626.6 L2099.7 1610.3 L2106.8 1561.5 L2112.6 1513.1 L2116.8 1467.1 L2119.6 1423.5 L2106.9 1429.2 L2103.5 1475.9 L2098.5 1524 L2092 1573 L2083.6 1625.7Z" fill="#ff7c81" stroke="#ff7c81"/>
<path d="M1186.7 1753.1 L1201.4 1769.8 L1239.5 1702.1 L1277.3 1638.4 L1317.5 1573.9 L1357.7 1513 L1398.9 1453.7 L1440.2 1397.7 L1480.6 1346.2 L1522.4 1296.2 L1512.5 1286.1 L1472.7 1332.9 L1430.9 1385 L1389.2 1440.1 L1348.6 1496.8 L1306.5 1558.6 L1265.4 1622.2 L1226.7 1685 L1186.7 1753.1Z M2066.4 1642.9 L2083.5 1626.6 L2092 1573 L2098.5 1524 L2103.5 1475.9 L2106.9 1429.2 L2093.9 1434.8 L2089.9 1483.2 L2084.1 1533.4 L2076.3 1586.6 L2066.4 1642.9Z" fill="#ff7c7c" stroke="#ff7c7c"/>
<path d="M1202.4 1768 L1201.4 1769.8 L1216.8 1786.9 L1254.6 1716.8 L1292.5 1650.4 L1330.6 1587.3 L1370 1525.6 L1409.4 1467.2 L1450.2 1410.4 L1491.3 1356.8 L1532.6 1306.4 L1522.4 1296.2 L1482.7 1343.5 L1441.3 1396.3 L1401.2 1450.5 L1360 1509.5 L1321.1 1568.3 L1281 1632.3 L1242.1 1697.7 L1202.4 1768Z M2048.4 1660.1 L2066.4 1643.3 L2076.3 1586.6 L2084.1 1533.4 L2089.9 1483.2 L2093.9 1434.8 L2080.3 1440.3 L2075.7 1490.7 L2068.6 1546.5 L2059.5 1602.7 L2048.4 1660.1Z" fill="#ff7676" stroke="#ff7676"/>
<path d="M1217.8 1785 L1216.8 1786.9 L1233.2 1804.4 L1268.5 1735.7 L1305.2 1668.3 L1342.3 1604.2 L1383.1 1538 L1422.9 1477.4 L1463.1 1420 L1503.8 1365.8 L1543.4 1316.7 L1532.6 1306.4 L1493.4 1354.1 L1452.4 1407.5 L1411.6 1464 L1372.2 1522.1 L1333 1583.5 L1293.7 1648.3 L1255.9 1714.6 L1217.8 1785Z M2029.5 1677.3 L2029.3 1678.1 L2048.4 1660.4 L2059.5 1602.7 L2068.6 1546.5 L2075.7 1490.7 L2080.3 1440.3 L2066.3 1445.5 L2060.6 1501.7 L2052.6 1558.2 L2042.1 1617.1 L2029.5 1677.3Z" fill="#ff7171" stroke="#ff7171"/>
<path d="M1234.2 1802.5 L1233.2 1804.4 L1250.8 1822.5 L1283.7 1754.4 L1320.3 1683.9 L1357.4 1617.1 L1394.9 1553.8 L1434 1492.2 L1473.6 1434 L1513.9 1378.9 L1554.8 1327.2 L1543.4 1316.7 L1503.8 1365.8 L1463.1 1420 L1422.9 1477.4 L1383.1 1538 L1342.3 1604.2 L1305.2 1668.3 L1268.5 1735.7 L1234.2 1802.5Z M2009.1 1695.8 L2029.3 1678.1 L2042.1 1617.1 L2052.6 1558.2 L2060.6 1501.7 L2066.3 1445.5 L2051.7 1450.6 L2045.4 1507.9 L2036.1 1568.3 L2024.2 1629.8 L2009.1 1695.8Z" fill="#ff6c6c" stroke="#ff6c6c"/>
<path d="M1251.7 1820.6 L1250.8 1822.5 L1269.7 1841.2 L1301.8 1770.4 L1335.7 1701.4 L1371.5 1633.6 L1409.1 1567.6 L1447.3 1505.2 L1486.3 1446.2 L1526.2 1390.3 L1566.8 1338 L1554.8 1327.2 L1513.9 1378.9 L1473.6 1434 L1434 1492.2 L1394.9 1553.8 L1357.4 1617.1 L1320.3 1683.9 L1286 1749.8 L1251.7 1820.6Z M1987.4 1714.2 L1987.1 1715.4 L2008.9 1696.4 L2010.7 1689.4 L2025.1 1625.6 L2036.7 1564.5 L2045.8 1504.5 L2051.7 1450.6 L2036.5 1455.4 L2029.2 1516.1 L2018.3 1580.6 L2004.2 1647.3 L1987.4 1714.2Z" fill="#ff6767" stroke="#ff6767"/>
<path d="M1270.5 1839.2 L1269.7 1841.2 L1290.3 1860.7 L1320.7 1788.3 L1353.9 1716.2 L1388.2 1647.8 L1423.5 1582.9 L1460.8 1519.6 L1500.1 1458.2 L1540.6 1400.1 L1579.6 1348.9 L1566.8 1338 L1526.2 1390.3 L1486.3 1446.2 L1447.3 1505.2 L1409.1 1567.6 L1371.5 1633.6 L1335.7 1701.4 L1301.8 1770.4 L1270.5 1839.2Z M1963.8 1733.9 L1963.4 1735.3 L1987.1 1715.4 L1991.5 1698.8 L2007.1 1634.6 L2019.8 1573 L2029.7 1512.7 L2036.5 1455.4 L2020.4 1460 L2012 1524.6 L1999.8 1591.5 L1983.2 1663.2 L1963.8 1733.9Z" fill="#ff6262" stroke="#ff6262"/>
<path d="M1291.1 1858.7 L1290.3 1860.7 L1313.1 1881.2 L1339.1 1812.6 L1369.1 1741.5 L1401.6 1671.7 L1437.6 1601.6 L1474.7 1535.5 L1513.2 1473 L1553.3 1413.9 L1593.4 1360.2 L1579.6 1348.9 L1540.6 1400.1 L1500.1 1458.2 L1460.8 1519.6 L1423.5 1582.9 L1388.2 1647.8 L1353.9 1716.2 L1320.7 1788.3 L1291.1 1858.7Z M1937.8 1754.9 L1937.4 1756.2 L1963.4 1735.3 L1971.7 1706.3 L1989 1639.7 L2002.5 1578.1 L2013 1517.8 L2020.4 1460 L2003.4 1464.3 L1994.3 1530.1 L1987.5 1567 L1979.9 1602.8 L1961.1 1677.7 L1937.8 1754.9Z" fill="#ff5d5d" stroke="#ff5d5d"/>
<path d="M1313.8 1879.1 L1313.1 1881.2 L1338.8 1903 L1362.7 1831.3 L1390.1 1759.6 L1421.5 1687 L1454.7 1618 L1490.6 1550.9 L1528.2 1487.5 L1567.7 1427.4 L1608.5 1371.8 L1593.4 1360.2 L1553.3 1413.9 L1515.3 1469.8 L1476.8 1532 L1439.6 1597.9 L1403.6 1667.6 L1372 1734.9 L1342 1805.5 L1313.8 1879.1Z M1908.8 1777.1 L1908.3 1778.5 L1937.4 1756.2 L1949.8 1716.9 L1968.6 1649.5 L1983.7 1585.6 L1995.4 1523.3 L2003.4 1464.3 L1985.1 1468.1 L1980.6 1503.2 L1974.2 1541.2 L1966.7 1578.5 L1957.9 1616.8 L1947.7 1655.7 L1936.1 1695.4 L1923.3 1735.5 L1908.8 1777.1Z" fill="#ff5959" stroke="#ff5959"/>
<path d="M1339.5 1900.9 L1338.8 1903 L1369.1 1926.8 L1384.7 1868.2 L1403.4 1808.6 L1425.3 1748.1 L1449.4 1689.1 L1469 1645.4 L1488.2 1605.6 L1509.7 1564.1 L1530.7 1526.3 L1552.1 1490.2 L1576.1 1452.5 L1600.8 1416.6 L1625 1383.9 L1608.5 1371.8 L1567.7 1427.4 L1528.2 1487.5 L1490.6 1550.9 L1454.7 1618 L1421.5 1687 L1390.1 1759.6 L1363.6 1828.9 L1339.5 1900.9Z M1875.4 1802 L1908.3 1778.5 L1924.9 1730.6 L1946.5 1660 L1963.4 1593.5 L1976.4 1529.3 L1985.1 1468.1 L1965.3 1471.6 L1960.1 1509.7 L1953.3 1547.8 L1944.8 1587.1 L1934.1 1629.6 L1922 1671.4 L1908.2 1714.2 L1892.5 1758.1 L1875.4 1802Z" fill="#ff5454" stroke="#ff5454"/>
<path d="M1369.6 1924.6 L1369.1 1926.8 L1406.8 1953.8 L1416.8 1895.8 L1431.1 1835.9 L1449.3 1774.6 L1472 1710.6 L1489 1668.2 L1507.7 1625.8 L1528.1 1583.6 L1549.2 1543.3 L1572 1503.3 L1595.6 1465 L1619.3 1429.9 L1643.8 1396.6 L1625 1383.9 L1605 1410.7 L1584.3 1440.4 L1564.1 1471.1 L1544.3 1503.1 L1506.8 1569.4 L1471.7 1639.6 L1439.8 1711.8 L1412.1 1783.5 L1389 1853.6 L1379.1 1888 L1369.6 1924.6Z M1835.6 1829.2 L1875.1 1802.8 L1897.1 1745.6 L1909.7 1709.6 L1922 1671.4 L1941.2 1602.2 L1949.3 1567.1 L1955.9 1534.2 L1961.1 1503.4 L1965.3 1471.6 L1943.4 1474.3 L1937.9 1513.8 L1929.7 1556.9 L1918.9 1602.2 L1906 1647.7 L1891.2 1692.9 L1874 1739.8 L1855.3 1785.7 L1835.6 1829.2Z" fill="#ff5050" stroke="#ff5050"/>
<path d="M1407.1 1951.5 L1406.8 1953.8 L1412.3 1957.5 L1436.1 1972.9 L1462.8 1988.7 L1460.9 1964.9 L1460.7 1938.3 L1462.3 1909.5 L1465.7 1878.8 L1470.9 1846.3 L1477.4 1814.6 L1486.1 1779.3 L1495.9 1745.1 L1510.2 1701.7 L1527.4 1656.3 L1546.8 1611.1 L1568.2 1566.3 L1591 1523.6 L1614.2 1484.4 L1639.9 1445.2 L1665.6 1410.2 L1643.8 1396.6 L1623.5 1423.9 L1602.7 1454.2 L1581.7 1487.1 L1562.4 1519.7 L1542.7 1555.4 L1524.5 1590.8 L1507.7 1625.8 L1491.5 1662.3 L1476.8 1698.3 L1461.9 1737.8 L1449.3 1774.6 L1438.2 1810.5 L1428.6 1845.3 L1419.9 1881.1 L1412.9 1915.6 L1407.1 1951.5Z M1784.3 1861.2 L1783.7 1862.2 L1798.2 1853.5 L1835.3 1829.9 L1864 1764.8 L1878.6 1727.7 L1892.8 1688.5 L1904.7 1651.9 L1915.8 1613.7 L1925.3 1576.4 L1932.8 1541.6 L1939.2 1506 L1943.4 1474.3 L1918.4 1476.2 L1912.4 1519.1 L1902.5 1567.4 L1889.3 1617 L1873.7 1665.6 L1854.4 1717 L1833.3 1766.1 L1809.7 1814.7 L1784.3 1861.2Z" fill="#ff4c4c" stroke="#ff4c4c"/>
<path d="M1462.5 1986.1 L1462.8 1988.7 L1472.5 1994.1 L1517.4 1981.3 L1563.9 1965.8 L1557.1 1961.2 L1551.5 1956.1 L1545.4 1948.8 L1540.6 1941 L1532.8 1922.6 L1527.3 1899.2 L1524.7 1873.2 L1524.7 1842.7 L1527.4 1810.3 L1532.6 1776.3 L1542.7 1730.8 L1556.1 1684.9 L1573.2 1637 L1592.5 1591.2 L1614.8 1545.7 L1639.3 1502.1 L1665.5 1461.7 L1692.9 1425.2 L1665.6 1410.2 L1643.1 1440.6 L1621.2 1473.2 L1599.6 1508.7 L1579 1545.5 L1560.4 1582.2 L1541.8 1622.2 L1525.1 1662.1 L1509.5 1703.8 L1495.9 1745.1 L1485.5 1781.5 L1476.4 1819.1 L1468.8 1857.8 L1463.9 1892.9 L1461.2 1926.3 L1460.7 1957.7 L1462.5 1986.1Z M1695 1910.1 L1735.6 1889.5 L1783.7 1862.2 L1809.7 1814.7 L1829.7 1773.9 L1849.6 1728.8 L1865.9 1687.3 L1881.4 1642.8 L1894.7 1598 L1905.2 1555.3 L1913.2 1514.4 L1918.4 1476.2 L1887.9 1476.5 L1885.3 1501.7 L1880.9 1529.4 L1875.1 1557.3 L1867.6 1586.9 L1858.8 1616.7 L1848.1 1648.4 L1835.9 1680.1 L1823.5 1709.4 L1808.9 1740.6 L1794.4 1768.7 L1779.1 1795.9 L1763.2 1821.9 L1746.6 1846.6 L1729.6 1869.8 L1712.3 1891 L1695 1910.1Z" fill="#ff4848" stroke="#ff4848"/>
<path d="M1563 1965.3 L1563.9 1965.8 L1578.5 1960.5 L1623.9 1942.7 L1660 1927 L1694.5 1910.7 L1712.2 1891.2 L1726.7 1873.5 L1742 1853.1 L1757.3 1831 L1782.4 1790.3 L1805.1 1748.1 L1826.5 1702.5 L1845.8 1654.5 L1861.8 1607.2 L1874.3 1560.7 L1882.8 1518.5 L1887.9 1476.5 L1865.7 1475.4 L1844.1 1473.2 L1843.8 1502.6 L1840 1534 L1832.4 1569.9 L1821.9 1605.6 L1808.3 1642.4 L1791.1 1680.6 L1772.5 1715.5 L1753.4 1746.1 L1739.4 1765.5 L1724.8 1783.5 L1709.3 1800 L1697 1811.2 L1683.8 1821.2 L1669.5 1829.6 L1656.4 1834.6 L1644 1836.6 L1635.1 1835.8 L1629 1833.9 L1624.3 1831.4 L1618.8 1827.2 L1613.2 1820.9 L1609.1 1814.1 L1605.2 1805.3 L1602.5 1796.1 L1599 1773.4 L1598.8 1746.4 L1602 1715.5 L1607.9 1684.9 L1617 1651 L1628.9 1616.1 L1643 1582 L1658.2 1550.4 L1676.6 1517.8 L1694.4 1490.6 L1714 1465.2 L1733.5 1443.9 L1712.5 1434.8 L1692.9 1425.2 L1674.5 1449.1 L1656.8 1474.5 L1635.4 1508.7 L1616.6 1542.3 L1598.3 1578.8 L1580.7 1618.5 L1565.4 1657.8 L1552.4 1696.7 L1541.7 1734.8 L1533.4 1772.1 L1527.7 1808.2 L1524.8 1840.5 L1524.6 1871 L1527 1897.1 L1532.2 1920.5 L1539.6 1939 L1544.1 1946.8 L1549.8 1954.3 L1555.1 1959.6 L1563 1965.3Z" fill="#ff4545" stroke="#ff4545"/>
<path d="M1622.5 1830.2 L1629 1833.9 L1635.1 1835.8 L1644 1836.6 L1651.4 1835.8 L1667.2 1830.7 L1676.1 1826.1 L1685.7 1820 L1705 1804.1 L1724.8 1783.5 L1743.7 1759.8 L1763.5 1730.5 L1781.8 1698.9 L1797.4 1667.5 L1812.3 1632.4 L1824.3 1598.2 L1834.1 1563.2 L1840.5 1530.9 L1843.9 1501.2 L1844.1 1473.2 L1815.6 1468.6 L1788.8 1462.4 L1760.1 1453.8 L1733.5 1443.9 L1719.9 1458.3 L1705.7 1475.4 L1692.1 1494 L1678.7 1514.4 L1666.6 1534.9 L1654.7 1557.4 L1643 1582 L1632.4 1607 L1623.6 1630.7 L1615.3 1656.6 L1608.8 1681.1 L1603.6 1705.9 L1600.5 1727.1 L1598.7 1748.3 L1598.7 1767.6 L1600.3 1784.8 L1603.5 1799.8 L1608.2 1812.4 L1614.5 1822.5 L1622.5 1830.2Z" fill="#ff4141" stroke="#ff4141"/>
</g>
<path d="M482.4 292.6 L484.7 292.6 M485.7 302.9 L492.1 302.8 M489.1 313.1 L499.4 313.1 M492.5 323.4 L506.7 323.2 M495.9 333.7 L514 333.4 M499.3 344.1 L521.4 343.5 M502.7 354.4 L528.7 353.5 M506.2 364.7 L536 363.6 M509.6 375.1 L543.3 373.6 M513.1 385.4 L550.6 383.5 M516.6 395.8 L558 393.4 M520.1 406.2 L565.3 403.3 M523.6 416.6 L572.6 413.2 M527.2 427 L579.9 423 M530.7 437.4 L587.3 432.7 M534.3 447.8 L594.6 442.5 M537.9 458.3 L601.9 452.2 M541.5 468.8 L609.3 461.8 M545.1 479.2 L616.6 471.5 M548.8 489.7 L624 481 M552.4 500.2 L631.3 490.6 M556.1 510.7 L638.7 500.1 M559.8 521.2 L646 509.6 M563.5 531.8 L653.4 519 M567.3 542.3 L660.7 528.4 M571 552.9 L668.1 537.8 M574.8 563.5 L675.4 547.1 M578.6 574.1 L682.8 556.4 M582.4 584.7 L690.2 565.7 M586.3 595.3 L697.6 574.9 M590.1 606 L705 584.1 M594 616.6 L712.4 593.3 M597.9 627.3 L719.8 602.4 M601.9 638 L727.2 611.4 M605.8 648.7 L734.6 620.5 M609.8 659.4 L742 629.5 M613.8 670.2 L749.4 638.5 M617.8 680.9 L756.9 647.4 M621.9 691.7 L764.3 656.3 M625.9 702.5 L771.8 665.1 M630 713.3 L779.3 674 M634.1 724.1 L786.7 682.7 M638.3 735 L794.2 691.5 M642.5 745.8 L801.7 700.2 M646.7 756.7 L809.2 708.9 M650.9 767.6 L816.7 717.5 M655.1 778.5 L824.2 726.1 M659.4 789.5 L831.8 734.6 M663.7 800.4 L839.3 743.2 M668.1 811.4 L846.9 751.7 M672.4 822.4 L854.5 760.1 M676.8 833.4 L862.1 768.5 M681.3 844.5 L869.7 776.9 M685.7 855.5 L877.3 785.2 M690.2 866.6 L884.9 793.5 M694.8 877.7 L892.6 801.8 M699.3 888.9 L900.2 810 M703.9 900 L907.9 818.2 M708.5 911.2 L915.6 826.3 M713.2 922.4 L923.3 834.4 M717.9 933.7 L931 842.5 M722.7 944.9 L938.8 850.5 M727.4 956.2 L946.6 858.5 M732.3 967.5 L846.6 914.9 L954.4 866.5 M737.1 978.8 L851.3 925.2 L962.2 874.4 M742 990.2 L860 933.7 L970 882.2 M746.9 1001.6 L866.8 943 L977.9 890.1 M751.9 1013 L871.7 953.3 L985.8 897.9 M757 1024.4 L878.6 962.6 L993.7 905.6 M762 1035.9 L883.7 972.8 L1001.6 913.3 M767.1 1047.4 L892.6 981.1 L1009.6 921 M772.3 1059 L899.6 990.4 L1017.5 928.6 M777.5 1070.5 L906.7 999.6 L1025.6 936.2 M782.8 1082.1 L912 1009.8 L1033.6 943.8 M788.1 1093.8 L919.3 1018.9 L1041.7 951.3 M793.4 1105.4 L926.5 1028.1 L1049.8 958.7 M798.9 1117.1 L932.1 1038.2 L1057.9 966.2 M804.3 1128.9 L939.5 1047.3 L1066.1 973.5 M809.9 1140.6 L946.9 1056.4 L1074.3 980.9 M815.4 1152.4 L954.5 1065.4 L1082.5 988.2 M821.1 1164.3 L960.3 1075.6 L1090.8 995.4 M826.8 1176.2 L967.9 1084.5 L1099.1 1002.6 M832.6 1188.1 L975.7 1093.5 L1107.5 1009.8 M838.4 1200.1 L983.5 1102.4 L1115.8 1016.9 M844.3 1212.1 L989.6 1112.5 L1124.3 1024 M850.3 1224.1 L997.6 1121.3 L1132.8 1031 M856.3 1236.2 L1005.6 1130.1 L1141.3 1038 M862.4 1248.4 L1012 1140.1 L1083.1 1090.4 L1149.9 1044.9 M868.6 1260.6 L1020.2 1148.9 L1090.8 1098.7 L1158.5 1051.8 M874.9 1272.8 L951.7 1214.5 L1026.8 1158.8 L1098.5 1107 L1167.2 1058.7 M881.2 1285.1 L958.9 1225.1 L1033.5 1168.8 L1106.3 1115.2 L1175.9 1065.4 M887.6 1297.4 L966.2 1235.6 L1042 1177.4 L1115.7 1122.3 L1184.7 1072.2 M894.2 1309.8 L973.6 1246.2 L1048.9 1187.3 L1122.2 1131.5 L1193.5 1078.9 M900.8 1322.2 L981.1 1256.7 L1055.9 1197.2 L1130.2 1139.6 L1202.4 1085.5 M2414.6 1210.1 L2415 1212 M907.5 1334.7 L988.7 1267.2 L1066.2 1204.4 L1141.3 1145.4 L1211.4 1092.1 M2406.2 1218.1 L2407.3 1223.6 M914.3 1347.3 L996.5 1277.7 L1073.5 1214.2 L1148.1 1154.6 L1220.4 1098.6 M2397.7 1226.1 L2399.5 1235.4 M921.2 1359.9 L1002.7 1289.6 L1080.8 1224 L1157.8 1161.4 L1229.5 1105.1 M2389.2 1234 L2391.6 1247.2 M928.2 1372.6 L1010.7 1300 L1089.9 1232.4 L1166.3 1169.3 L1238.7 1111.6 M2380.6 1241.8 L2383.6 1259.1 M935.3 1385.3 L1017.2 1311.9 L1097.5 1242.1 L1173.3 1178.4 L1248 1117.9 M2372 1249.6 L2375.4 1271.1 M942.5 1398.2 L1025.6 1322.3 L1106.8 1250.5 L1183.4 1185 L1257.3 1124.2 M2363.3 1257.4 L2367.1 1283.1 M949.8 1411 L1032.4 1334.2 L1113.1 1261.5 L1192.1 1192.8 L1266.7 1130.5 M2354.5 1265.1 L2358.7 1295.2 M957.3 1424 L1042.7 1343 L1122.6 1269.7 L1200.9 1200.5 L1276.2 1136.7 M2345.6 1272.7 L2350.1 1307.5 M964.9 1437 L1049.9 1354.8 L1130.8 1279.3 L1209.8 1208.2 L1285.8 1142.9 M2336.7 1280.3 L2341.3 1319.8 M972.6 1450.1 L1057.3 1366.7 L1139.1 1288.8 L1218.9 1215.9 L1295.5 1148.9 M2327.6 1287.9 L2332.4 1332.2 M980.5 1463.3 L1066.5 1376.9 L1149 1296.9 L1228.1 1223.4 L1305.3 1154.9 M2318.5 1295.3 L2323.3 1344.7 M988.5 1476.6 L1074.2 1388.7 L1159.1 1304.9 L1238.7 1229.7 L1315.2 1160.9 M2309.3 1302.8 L2314 1357.3 M996.7 1489.9 L1083.8 1398.8 L1166.4 1315.7 L1248.2 1237.2 L1325.2 1166.8 M2300 1310.1 L2304.6 1370 M1005.1 1503.4 L1092 1410.5 L1175.4 1325 L1256.4 1245.8 L1335.4 1172.6 M2290.6 1317.4 L2294.9 1382.9 M1013.6 1516.9 L1100.4 1422.2 L1184.5 1334.3 L1266.2 1253.1 L1345.6 1178.3 M2281.1 1324.6 L2285.1 1395.8 M1022.3 1530.6 L1109 1433.9 L1193.9 1343.6 L1276.1 1260.4 L1356 1184 M2271.5 1331.8 L2275 1408.9 M1031.2 1544.3 L1118 1445.5 L1203.4 1352.7 L1286.1 1267.6 L1366.6 1189.6 M2261.7 1338.9 L2264.6 1422.1 M1040.3 1558.2 L1128.7 1455.4 L1213.2 1361.9 L1296.4 1274.7 L1377.3 1195.1 M2251.9 1345.9 L2253.5 1390.6 L2254.1 1435.5 M1049.6 1572.2 L1138.1 1466.9 L1224.5 1369.4 L1308.1 1280.5 L1388.2 1200.6 M2241.9 1352.8 L2243.1 1400.2 L2243.2 1449 M1059.2 1586.3 L1147.9 1478.4 L1233.4 1379.9 L1277 1331.8 L1318.7 1287.4 L1358.6 1246.3 L1399.2 1205.9 M2231.7 1359.7 L2232.6 1409.8 L2232.1 1462.6 M1069 1600.6 L1157.9 1489.8 L1243.8 1388.8 L1285.7 1341.8 L1329.5 1294.3 L1371.3 1250.6 L1410.5 1211.2 M2221.4 1366.5 L2221.9 1419.6 L2220.7 1476.4 M1079.1 1614.9 L1166.9 1503 L1211.1 1449 L1254.6 1397.6 L1297.3 1348.8 L1339.3 1302.4 L1380.8 1258.3 L1421.9 1216.3 M2211 1373.2 L2210.9 1431 L2209 1490.4 M1089.5 1629.5 L1133.1 1571.6 L1177.6 1514.3 L1221.3 1459.7 L1264.3 1407.9 L1307.8 1357.2 L1350.6 1309.1 L1391.7 1264.7 L1433.6 1221.4 M2200.3 1379.9 L2199.7 1440.9 L2196.9 1504.6 M1100.2 1644.2 L1144.9 1583.3 L1187.3 1527.3 L1230.5 1472.1 L1275.6 1416.5 L1319.8 1364 L1362.1 1315.7 L1404 1269.9 L1445.5 1226.4 M2189.5 1386.4 L2188.2 1450.8 L2184.4 1518.9 M1111.2 1659.1 L1155.6 1597 L1200.2 1536.6 L1242.7 1481 L1287.2 1425.1 L1330.9 1372.2 L1372.8 1323.5 L1416.5 1274.9 L1457.7 1231.2 M2178.5 1392.8 L2176.4 1462.6 L2171.5 1533.5 M1122.6 1674.2 L1165.4 1612.6 L1209.4 1551.3 L1252.7 1493.3 L1296.6 1436.7 L1339.9 1383.2 L1383.7 1331.2 L1426 1283.5 L1468.7 1237.6 M2167.2 1399.2 L2164.4 1471.1 L2158.2 1548.3 M1134.4 1689.5 L1178.6 1624 L1221.8 1562.2 L1264.4 1503.7 L1307.7 1446.6 L1350.4 1392.6 L1392.7 1341.6 L1434.6 1293.2 L1476.9 1247.1 M2155.7 1405.4 L2152 1481.4 L2144.5 1563.4 M1146.7 1705 L1188.1 1641.5 L1232.1 1576.9 L1274.1 1517.5 L1316.8 1459.7 L1359.1 1405 L1402.1 1351.8 L1443.7 1303 L1485.3 1256.7 M2144 1411.6 L2142.1 1451.5 L2139.1 1493.6 L2130.1 1578.7 M1159.5 1720.7 L1201.2 1654.7 L1242.9 1591.4 L1285.5 1529.5 L1326.4 1472.7 L1368.2 1417.3 L1410.8 1363.4 L1452.2 1313.9 L1494.1 1266.4 M2132 1417.6 L2129.7 1458.4 L2126.1 1502.4 L2121.5 1546.4 L2115.3 1594.3 M1172.8 1736.8 L1213.5 1670 L1253.1 1607.8 L1295 1545 L1337.8 1484 L1379 1428 L1421.2 1373.5 L1462.2 1323.4 L1503.1 1276.2 M2119.6 1423.5 L2116.8 1467.1 L2112.6 1513.1 L2106.8 1561.5 L2099.7 1610.3 M1186.7 1753.1 L1226.7 1685 L1265.4 1622.2 L1306.5 1558.6 L1348.6 1496.8 L1389.2 1440.1 L1430.9 1385 L1472.7 1332.9 L1512.5 1286.1 M2106.9 1429.2 L2103.5 1475.9 L2098.5 1524 L2092 1573 L2083.5 1626.6 M1201.4 1769.8 L1239.5 1702.1 L1278.5 1636.4 L1318.7 1572.1 L1358.9 1511.2 L1398.9 1453.7 L1440.2 1397.7 L1480.6 1346.2 L1522.4 1296.2 M2093.9 1434.8 L2089.9 1483.2 L2084.1 1533.4 L2076.3 1586.6 L2066.4 1643.3 M1216.8 1786.9 L1253.4 1719.1 L1291.3 1652.4 L1330.6 1587.3 L1370 1525.6 L1409.4 1467.2 L1450.2 1410.4 L1491.3 1356.8 L1532.6 1306.3 M2080.3 1440.3 L2075.7 1490.7 L2068.6 1546.5 L2059.5 1602.7 L2048.4 1660.4 M1233.2 1804.4 L1268.5 1735.7 L1305.2 1668.3 L1343.5 1602.3 L1383.1 1538 L1422.9 1477.4 L1463.1 1420 L1503.8 1365.8 L1543.4 1316.7 M2066.3 1445.5 L2060.6 1501.7 L2052.6 1558.2 L2042.1 1617.1 L2029.3 1678.1 M1250.8 1822.5 L1283.7 1754.4 L1320.3 1683.9 L1357.4 1617.1 L1394.9 1553.8 L1434 1492.2 L1473.6 1434 L1513.9 1378.9 L1554.8 1327.2 M2051.7 1450.6 L2045.4 1507.9 L2036.1 1568.3 L2024.2 1629.8 L2008.9 1696.4 M1269.7 1841.2 L1301.8 1770.4 L1335.7 1701.4 L1371.5 1633.6 L1409.1 1567.6 L1447.3 1505.2 L1486.3 1446.2 L1526.2 1390.3 L1566.8 1338 M2036.5 1455.4 L2029.2 1516.1 L2018.3 1580.6 L2004.2 1647.3 L1987.1 1715.4 M1290.3 1860.7 L1320.7 1788.3 L1352.8 1718.4 L1387.2 1649.8 L1423.5 1582.9 L1460.8 1519.6 L1500.1 1458.2 L1540.6 1400.1 L1579.6 1348.9 M2020.4 1460 L2012 1524.6 L1999.8 1591.5 L1983.2 1663.2 L1963.4 1735.3 M1313.1 1881.2 L1340.1 1810.2 L1370.1 1739.3 L1403.6 1667.6 L1437.6 1601.6 L1474.7 1535.5 L1513.2 1473 L1553.3 1413.9 L1593.4 1360.2 M2003.4 1464.3 L1994.3 1530.1 L1987.5 1567 L1979.9 1602.8 L1960.5 1680 L1937.4 1756.2 M1338.8 1903 L1362.7 1831.3 L1390.1 1759.6 L1421.5 1687 L1454.7 1618 L1490.6 1550.9 L1528.2 1487.5 L1567.7 1427.4 L1608.5 1371.8 M1985.1 1468.1 L1980.6 1503.2 L1974.2 1541.2 L1966.7 1578.5 L1957.9 1616.8 L1947.7 1655.7 L1936.1 1695.4 L1922.5 1737.9 L1908.3 1778.5 M1369.1 1926.8 L1378.4 1890.5 L1388.3 1856 L1411.3 1785.8 L1438.9 1713.9 L1454.6 1677 L1471.7 1639.6 L1506.8 1569.4 L1544.3 1503.1 L1564.1 1471.1 L1584.3 1440.4 L1605 1410.7 L1625 1383.9 M1965.3 1471.6 L1960.1 1509.7 L1953.3 1547.8 L1944.8 1587.1 L1934.1 1629.6 L1922 1671.4 L1908.2 1714.2 L1892.5 1758.1 L1875.1 1802.8 M1406.8 1953.8 L1412 1920.6 L1418.9 1886 L1427.4 1850 L1437.5 1812.8 L1449.3 1774.6 L1461.9 1737.8 L1475.2 1702.4 L1490.7 1664.3 L1506.9 1627.7 L1524.5 1590.8 L1542.7 1555.4 L1562.4 1519.7 L1581.7 1487.1 L1602.7 1454.2 L1623.5 1423.9 L1643.8 1396.6 M1943.4 1474.3 L1937.9 1513.8 L1929.7 1556.9 L1918.9 1602.2 L1906 1647.7 L1891.2 1692.9 L1874 1739.8 L1855.3 1785.7 L1835.3 1829.9 M1462.8 1988.7 L1460.7 1960.1 L1461.1 1928.7 L1463.7 1895.3 L1468.5 1860.2 L1475.9 1821.3 L1484.9 1783.7 L1495.9 1745.1 L1509.5 1703.8 L1525.1 1662.1 L1541.8 1622.2 L1560.4 1582.2 L1579 1545.5 L1599.6 1508.7 L1621.2 1473.2 L1643.1 1440.6 L1665.6 1410.2 M1918.4 1476.2 L1912.4 1519.1 L1902.5 1567.4 L1889.3 1617 L1873.7 1665.6 L1854.4 1717 L1833.3 1766.1 L1809.7 1814.7 L1783.7 1862.2 M1563.9 1965.8 L1557.1 1961.2 L1549.8 1954.3 L1544.1 1946.8 L1538.6 1937 L1534.3 1926.8 L1530.4 1914.2 L1525.9 1888.4 L1524.3 1855.8 L1526.2 1821.1 L1531.1 1784.7 L1539.7 1743 L1551.2 1700.6 L1565.4 1657.8 L1583 1613 L1601.7 1571.7 L1623 1530.4 L1645.3 1492.3 L1668.8 1457 L1692.9 1425.2 M1887.9 1476.5 L1885.3 1501.7 L1880.9 1529.4 L1875.1 1557.3 L1867.6 1586.9 L1858.8 1616.7 L1848.1 1648.4 L1835.9 1680.1 L1823.5 1709.4 L1808.9 1740.6 L1794.4 1768.7 L1779.1 1795.9 L1763.2 1821.9 L1746.6 1846.6 L1729.6 1869.8 L1712.2 1891.2 L1694.5 1910.7 M1844.1 1473.2 L1844.1 1498.3 L1841.2 1526.3 L1835.2 1558.1 L1827.1 1589.1 L1816.7 1620.7 L1803.1 1654.8 L1787.8 1687.4 L1771.1 1718 L1753.4 1746.1 L1734.9 1771.3 L1716 1793.2 L1697 1811.2 L1678.1 1824.9 L1662.1 1832.8 L1653.2 1835.4 L1645.2 1836.5 L1639 1836.4 L1631.9 1834.9 L1626.6 1832.7 L1620.5 1828.7 L1615.8 1824.1 L1611 1817.6 L1607.4 1810.6 L1604 1801.6 L1599.8 1781 L1598.5 1758 L1600 1730.9 L1604.3 1702 L1611.1 1671.6 L1620.5 1639.9 L1632.4 1607 L1646.2 1574.9 L1661.9 1543.5 L1679.8 1512.7 L1696.9 1487.3 L1715.4 1463.5 L1733.5 1443.9" stroke="#444" stroke-opacity="0.55" stroke-width="3.6" fill="none"/>
<g fill="none" stroke="#000" stroke-width="12" stroke-linecap="round" stroke-linejoin="round"><path d="M756.4 457.6 L764.6 485.4 L773 513 L781.6 540.5 L790.5 567.8 L799.6 595 L809 622 L818.5 648.8 L828.3 675.6 L838.3 702.2 L848.6 728.7 L859 755.1 L869.6 781.5 L880.5 807.7 L891.5 833.9 L902.8 860 L914.2 886 L925.9 912 L937.7 937.9 L949.7 963.8 L961.9 989.7 L974.3 1015.6 L986.8 1041.4 L999.5 1067.3 L1012.4 1093.2 L1025.5 1119 L1038.8 1144.9 L1052.4 1170.6 L1066.2 1196.1 L1080.5 1221.5 L1095.1 1246.6 L1110.1 1271.4 L1125.6 1295.9 L1141.7 1320 L1158.3 1343.6 L1175.5 1366.7 L1193.3 1389.3 L1211.8 1411.2 L1231.1 1432.6 L1251.1 1453.2 L1271.9 1473 L1293.5 1492 L1315.8 1510 L1338.8 1527 L1362.6 1542.7 L1386.9 1557.2 L1412 1570.2 L1437.6 1581.8 L1463.9 1591.8 L1490.7 1600.1 L1518 1606.8 L1545.7 1611.8 L1573.8 1615.3 L1602 1617.2 L1630.5 1617.6 L1659 1616.6 L1687.6 1614.1 L1716.1 1610.1 L1744.4 1604.8 L1772.5 1598.1 L1800.3 1590.1 L1827.7 1580.8 L1854.7 1570.2 L1881.1 1558.4 L1906.9 1545.4 L1932 1531.2 L1956.3 1515.9 L1979.7 1499.5 L2002.3 1482 L2023.9 1463.5 L2044.7 1444.1 L2064.7 1423.7 L2083.7 1402.5 L2102 1380.5 L2119.4 1357.7 L2136 1334.2 L2151.8 1310.1 L2166.9 1285.4 L2181.1 1260.1 L2194.6 1234.3 L2207.4 1208.1 L2219.4 1181.5 L2230.7 1154.5 L2241.3 1127.3 L2251.2 1099.8 L2260.5 1072.1 L2269 1044.3 L2276.9 1016.4 L2284.2 988.4 L2290.8 960.5"/><path d="M729.4 500.8 L756.4 457.6 L802.8 481.9"/><path d="M2248.7 990.3 L2290.8 960.5 L2321.8 1003.5"/></g>
<g font-family="'Liberation Sans', Arial, sans-serif" fill="#2a3f5f" stroke="#fff" stroke-width="0.5"><text transform="translate(324.2 254.9) rotate(-0.5) scale(1 1.08)" y="27.2" text-anchor="middle" font-size="76">7000</text><text transform="translate(334.3 465.1) rotate(-2.2) scale(1 1.08)" y="27.2" text-anchor="middle" font-size="76">6000</text><text transform="translate(344.9 671.7) rotate(-4.6) scale(1 1.08)" y="27.2" text-anchor="middle" font-size="76">5000</text><text transform="translate(356 874) rotate(-6.4) scale(1 1.08)" y="27.2" text-anchor="middle" font-size="76">4000</text><text transform="translate(363.6 1075.8) rotate(-9.7) scale(1 1.08)" y="27.2" text-anchor="middle" font-size="76">3000</text><text transform="translate(373.1 1271) rotate(-11.2) scale(1 1.08)" y="27.2" text-anchor="middle" font-size="76">2000</text><text transform="translate(381.8 1461.7) rotate(-12.5) scale(1 1.08)" y="27.2" text-anchor="middle" font-size="76">1000</text><text transform="translate(390.9 1652.7) rotate(-9) scale(1 1.08)" y="27.2" text-anchor="middle" font-size="76">0</text><text transform="translate(546.9 1755) rotate(-18) scale(1 1.08)" y="27.2" text-anchor="middle" font-size="76">−15</text><text transform="translate(724 1838.2) rotate(-19) scale(1 1.08)" y="27.2" text-anchor="middle" font-size="76">−10</text><text transform="translate(922 1929.5) rotate(-20) scale(1 1.08)" y="27.2" text-anchor="middle" font-size="76">−5</text><text transform="translate(1144.5 2044) rotate(-17) scale(1 1.08)" y="27.2" text-anchor="middle" font-size="76">0</text><text transform="translate(1625.1 2125.2) rotate(20) scale(1 1.08)" y="27.2" text-anchor="middle" font-size="76">0</text><text transform="translate(1837.4 2028.6) rotate(19) scale(1 1.08)" y="27.2" text-anchor="middle" font-size="76">10</text><text transform="translate(2021.7 1938.4) rotate(18) scale(1 1.08)" y="27.2" text-anchor="middle" font-size="76">20</text><text transform="translate(2191.5 1858.3) rotate(17.5) scale(1 1.08)" y="27.2" text-anchor="middle" font-size="76">30</text><text transform="translate(2346.7 1787.7) rotate(17) scale(1 1.08)" y="27.2" text-anchor="middle" font-size="76">40</text><text transform="translate(2486.9 1719.1) rotate(16) scale(1 1.08)" y="27.2" text-anchor="middle" font-size="76">50</text><text x="115" y="1041.5" font-size="81">Loss</text><text x="2206" y="1970.5" font-size="79">Bias</text><text transform="translate(662.7 1939.2) rotate(26)" y="22" text-anchor="middle" font-size="78">Weight</text></g>
</svg></body></html>
